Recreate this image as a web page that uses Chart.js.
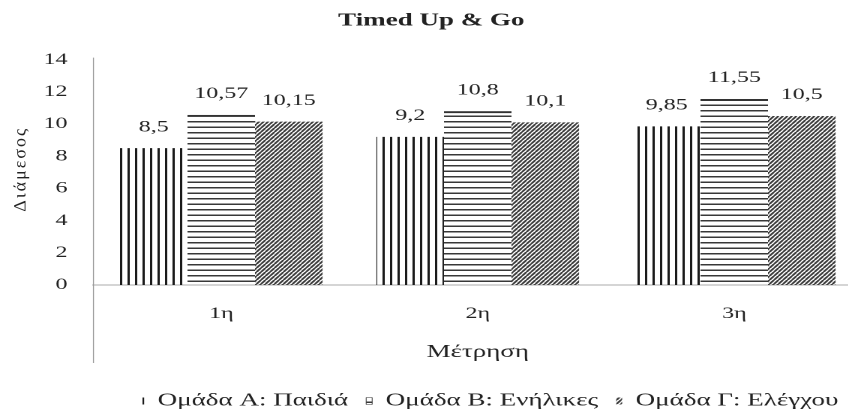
<!DOCTYPE html>
<html>
<head>
<meta charset="utf-8">
<script src="https://cdn.jsdelivr.net/npm/chart.js@4/dist/chart.umd.min.js"></script>
<style>
  html, body { margin: 0; padding: 0; background: #fff; overflow: hidden; }
  /* the scanned figure has wide letters, so the whole chart is drawn narrow and stretched */
  #wrap { width: 575px; height: 409px; transform: scaleX(1.5); transform-origin: 0 0; }
</style>
</head>
<body>
<div id="wrap"><canvas id="chart"></canvas></div>
<script>
const categories = ['1η', '2η', '3η'];
const groupNames = ['Ομάδα Α: Παιδιά', 'Ομάδα Β: Ενήλικες', 'Ομάδα Γ: Ελέγχου'];
const groupA = [8.5, 9.2, 9.85];
const groupB = [10.57, 10.8, 11.55];
const groupC = [10.15, 10.1, 10.5];

const stretch = 1.5;
const serif = 'Liberation Serif, Times New Roman, serif';
const ink = '#222';

const canvas = document.getElementById('chart');
const ctx = canvas.getContext('2d');

// hatch fills, tiles drawn at 2x and scaled back down
function makePattern(kind) {
    const tile = document.createElement('canvas');
    const t = tile.getContext('2d');
    if (kind === 'vertical') {
        tile.width = 10; tile.height = 4;
        t.fillStyle = '#1a1a1a';
        t.fillRect(0, 0, 3, 4);
    } else if (kind === 'horizontal') {
        tile.width = 4; tile.height = 11;
        t.fillStyle = '#383838';
        t.fillRect(0, 0, 4, 3);
    } else {
        const w = 6, h = 8;
        tile.width = w; tile.height = h;
        t.strokeStyle = '#3c3c3c';
        t.lineWidth = 3;
        t.beginPath();
        t.moveTo(0, h); t.lineTo(w, 0);
        t.moveTo(-w, h); t.lineTo(0, 0);
        t.moveTo(w, h); t.lineTo(2 * w, 0);
        t.stroke();
    }
    const p = ctx.createPattern(tile, 'repeat');
    p.setTransform(new DOMMatrix().scale(0.5));
    return p;
}

const valueLabels = {
    id: 'valueLabels',
    afterDatasetsDraw(chart) {
        const c = chart.ctx;
        c.save();
        c.font = '16px ' + serif;
        c.fillStyle = ink;
        c.textAlign = 'center';
        c.textBaseline = 'middle';
        chart.data.datasets.forEach((ds, i) => {
            chart.getDatasetMeta(i).data.forEach((bar, j) => {
                c.fillText(String(ds.data[j]).replace('.', ','), bar.x, bar.y - 21);
            });
        });
        c.restore();
    }
};

// y title drawn by hand so the stretch does not fatten it
const yTitle = {
    id: 'yTitle',
    afterDraw(chart) {
        const c = chart.ctx;
        const area = chart.chartArea;
        c.save();
        c.font = '18px ' + serif;
        c.fillStyle = ink;
        c.letterSpacing = '2px';
        c.textAlign = 'center';
        c.textBaseline = 'middle';
        c.translate(chart.scales.y.left + 14, (area.top + area.bottom) / 2 - 3);
        c.scale(1 / stretch, 1);
        c.rotate(-Math.PI / 2);
        c.fillText('Διάμεσος', 0, 0);
        c.restore();
    }
};

// left frame line that runs down past the axis, legend nudged like the print
const frameLine = {
    id: 'frameLine',
    afterLayout(chart) {
        chart.legend.left += 38;
        chart.legend.right += 38;
        chart.legend.top += 11;
        chart.legend.bottom += 11;
    },
    beforeDatasetsDraw(chart) {
        const c = chart.ctx;
        const area = chart.chartArea;
        c.save();
        c.strokeStyle = '#999';
        c.lineWidth = 1 / stretch;
        c.beginPath();
        c.moveTo(area.left + 0.3, area.top - 2);
        c.lineTo(area.left + 0.3, chart.scales.x.bottom - 6);
        c.stroke();
        c.restore();
    }
};

new Chart(canvas, {
    type: 'bar',
    data: {
        labels: categories,
        datasets: [
            { label: groupNames[0], data: groupA, backgroundColor: makePattern('vertical'), borderWidth: 0 },
            { label: groupNames[1], data: groupB, backgroundColor: makePattern('horizontal'),
              borderColor: '#333', borderWidth: { top: 2, left: 0, right: 0, bottom: 0 } },
            { label: groupNames[2], data: groupC, backgroundColor: makePattern('diagonal'), borderWidth: 0 }
        ]
    },
    options: {
        responsive: true,
        maintainAspectRatio: false,
        devicePixelRatio: 2,
        animation: false,
        layout: { padding: 0 },
        datasets: {
            bar: { categoryPercentage: 0.79, barPercentage: 1.0 }
        },
        scales: {
            x: {
                grid: { display: false, drawTicks: false },
                border: { display: true, color: '#aaa' },
                ticks: { color: ink, font: { family: serif, size: 16 }, padding: 19 },
                title: { display: true, text: 'Μέτρηση', color: ink, font: { family: serif, size: 18 }, padding: { top: 0, bottom: 6 } },
                afterFit(scale) { scale.height = 84; }
            },
            y: {
                min: 0,
                max: 14,
                grid: { display: false, drawTicks: false },
                border: { display: false },
                ticks: { stepSize: 2, color: ink, font: { family: serif, size: 16 }, padding: 17 },
                afterFit(scale) { scale.width = 62; }
            }
        },
        plugins: {
            title: {
                display: true,
                text: 'Timed Up & Go',
                color: ink,
                font: { family: serif, size: 18, weight: 'bold' },
                padding: { top: 10, bottom: 28 }
            },
            legend: {
                position: 'bottom',
                labels: {
                    color: ink,
                    font: { family: serif, size: 18 },
                    boxWidth: 4,
                    boxHeight: 7,
                    padding: 12
                }
            },
            tooltip: { enabled: false }
        }
    },
    plugins: [valueLabels, yTitle, frameLine]
});
</script>
</body>
</html>
